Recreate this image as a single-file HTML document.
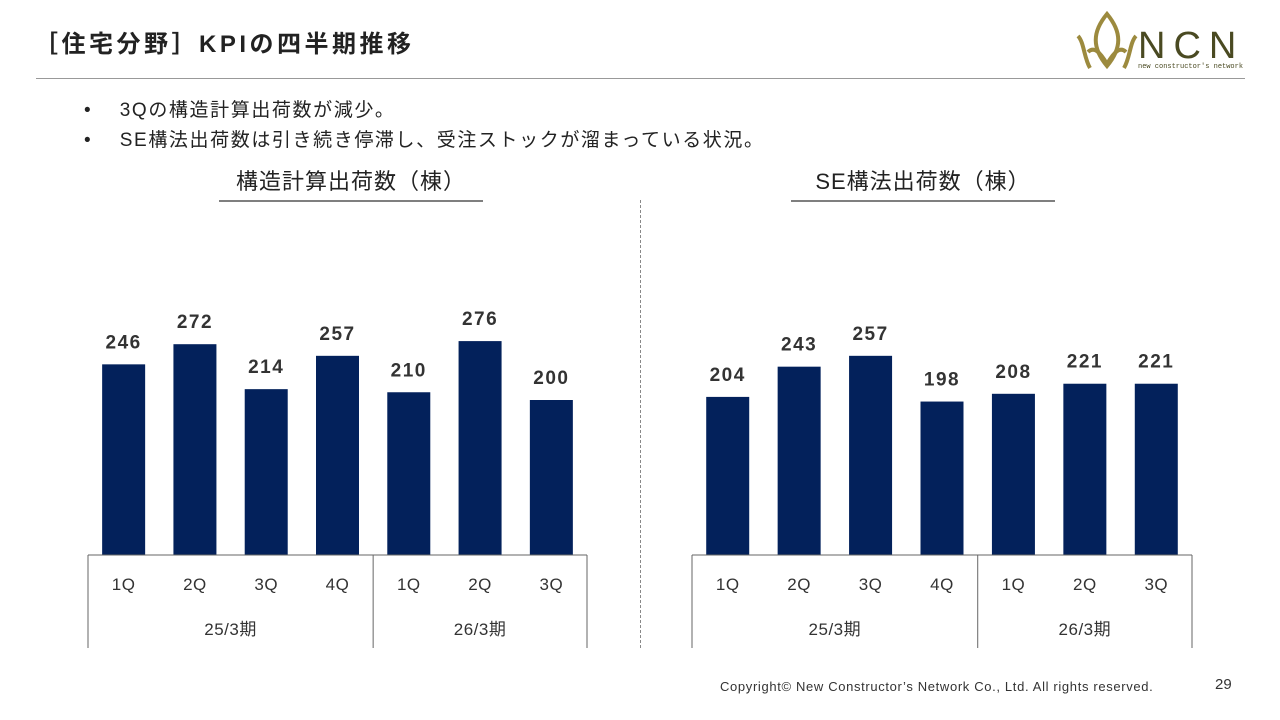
<!DOCTYPE html>
<html><head><meta charset="utf-8">
<style>
body{margin:0;width:1280px;height:720px;background:#fff;font-family:"Liberation Sans","Noto Sans CJK JP",sans-serif;position:relative;overflow:hidden;color:#333}
.abs{position:absolute}
</style></head><body>
<div class="abs" style="left:34px;top:24px;font-size:24px;font-weight:bold;color:#222;letter-spacing:3.5px">［住宅分野］KPIの四半期推移</div>
<div class="abs" style="left:36px;top:78px;width:1209px;height:1px;background:#999"></div>
<svg class="abs" style="left:1070px;top:8px" width="180" height="68">
<g fill="none" stroke="#9c8a3e" stroke-width="4">
<path d="M37 6 C22 24 22 40 37 58 C52 40 52 24 37 6Z"/>
<path d="M8 28 C14 34 14 50 20 60 M66 28 C60 34 60 50 54 60"/>
<path d="M18 44 C24 38 30 44 37 56 C44 44 50 38 56 44"/>
</g>
<text x="68" y="50" font-size="38" fill="#4a4a22" font-family="Liberation Sans" letter-spacing="8">NCN</text>
<text x="68" y="60" font-size="7" fill="#4a4a22" font-family="Liberation Mono">new constructor's network</text>
</svg>
<div class="abs" style="left:84px;top:96px;font-size:19px;line-height:30px;color:#222;letter-spacing:1.6px">
<div>•&nbsp;&nbsp;&nbsp;&nbsp;3Qの構造計算出荷数が減少。</div>
<div>•&nbsp;&nbsp;&nbsp;&nbsp;SE構法出荷数は引き続き停滞し、受注ストックが溜まっている状況。</div>
</div>
<div class="abs" style="left:640px;top:200px;height:448px;border-left:1px dashed #888"></div>
<svg class="abs" id="chart" style="left:0;top:0" width="1280" height="720"></svg>
<div class="abs" style="left:720px;top:679px;font-size:13px;color:#333;letter-spacing:0.65px">Copyright© New Constructor’s Network Co., Ltd. All rights reserved.</div>
<div class="abs" style="left:1215px;top:676px;font-size:15px;color:#333">29</div>
<script>
const quarters=["1Q","2Q","3Q","4Q","1Q","2Q","3Q"];
const periods=["25/3期","26/3期"];
const periodSizes=[4,3];
const structValues=[246,272,214,257,210,276,200];
const seValues=[204,243,257,198,208,221,221];
const titles=["構造計算出荷数（棟）","SE構法出荷数（棟）"];
const svg=document.getElementById('chart');
const NS='http://www.w3.org/2000/svg';
function mk(t,a){const e=document.createElementNS(NS,t);for(const k in a)e.setAttribute(k,a[k]);svg.appendChild(e);return e;}
const base=555,scale=0.775;
function yOf(v){return base-v*scale;}
function draw(x0,x1,vals,title,tx0,tx1){
  const cw=(x1-x0)/vals.length;
  const xOf=i=>x0+cw*(i+0.5);
  const t=mk('text',{x:(tx0+tx1)/2,y:189,'text-anchor':'middle','font-size':22,fill:'#222','letter-spacing':1});t.textContent=title;
  
  
  const u=mk('line',{x1:tx0,x2:tx1,y1:201,y2:201,stroke:'#333','stroke-width':1.3});
  
  
  vals.forEach((v,i)=>{
    const r=mk('rect',{x:xOf(i)-21.5,y:yOf(v),width:43,height:v*scale,fill:'#03215b'});
    
    
    const l=mk('text',{x:xOf(i),y:yOf(v)-16,'text-anchor':'middle','font-size':19,'font-weight':'bold',fill:'#333','letter-spacing':1.5});l.textContent=v;
    
    
    const q=mk('text',{x:xOf(i),y:590,'text-anchor':'middle','font-size':17,fill:'#333','letter-spacing':0.5});q.textContent=quarters[i];
    
    
  });
  const ax=mk('line',{x1:x0,x2:x1,y1:base,y2:base,stroke:'#666','stroke-width':1});
  
  
  let s=0;
  const bl=mk('line',{x1:x0,x2:x0,y1:base,y2:648,stroke:'#666'});
  
  
  periods.forEach((p,j)=>{
    const a=x0+s*cw,b=x0+(s+periodSizes[j])*cw;s+=periodSizes[j];
    const ln=mk('line',{x1:b,x2:b,y1:base,y2:648,stroke:'#666'});
    
    
    const pt=mk('text',{x:(a+b)/2,y:635,'text-anchor':'middle','font-size':17,fill:'#333','letter-spacing':0.5});pt.textContent=p;
    
    
  });
}
draw(88,587,structValues,titles[0],219,483);
draw(692,1192,seValues,titles[1],791,1055);
</script>
</body></html>
